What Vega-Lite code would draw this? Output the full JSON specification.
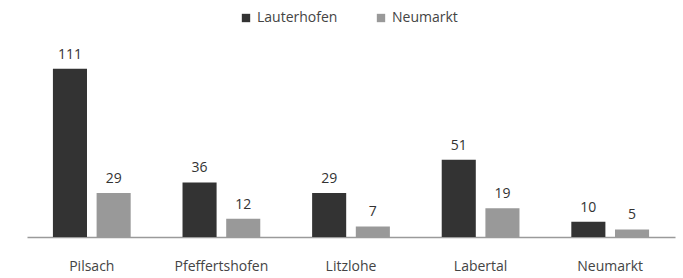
{
  "$schema": "https://vega.github.io/schema/vega-lite/v6.json",
  "width": 648,
  "height": 197,
  "autosize": {"type": "none"},
  "padding": {"left": 27, "top": 40, "right": 8, "bottom": 41},
  "background": "white",
  "config": {"view": {"stroke": null}, "font": "Open Sans"},
  "data": {
    "values": [
      {"ort": "Pilsach", "serie": "Lauterhofen", "wert": 111},
      {"ort": "Pilsach", "serie": "Neumarkt", "wert": 29},
      {"ort": "Pfeffertshofen", "serie": "Lauterhofen", "wert": 36},
      {"ort": "Pfeffertshofen", "serie": "Neumarkt", "wert": 12},
      {"ort": "Litzlohe", "serie": "Lauterhofen", "wert": 29},
      {"ort": "Litzlohe", "serie": "Neumarkt", "wert": 7},
      {"ort": "Labertal", "serie": "Lauterhofen", "wert": 51},
      {"ort": "Labertal", "serie": "Neumarkt", "wert": 19},
      {"ort": "Neumarkt", "serie": "Lauterhofen", "wert": 10},
      {"ort": "Neumarkt", "serie": "Neumarkt", "wert": 5}
    ]
  },
  "encoding": {
    "x": {
      "field": "ort", "type": "nominal", "sort": null,
      "scale": {"paddingInner": 0.4, "paddingOuter": 0.2},
      "axis": {"title": null, "labelAngle": 0, "ticks": false, "domainColor": "#9a9a9a", "domainWidth": 1.5, "labelPadding": 22, "labelFontSize": 14, "labelColor": "#444444"}
    },
    "xOffset": {"field": "serie", "type": "nominal", "scale": {"paddingInner": 0.22}},
    "y": {
      "field": "wert", "type": "quantitative",
      "scale": {"domain": [0, 130]},
      "axis": null
    }
  },
  "layer": [
    {
      "mark": {"type": "bar"},
      "encoding": {
        "color": {
          "field": "serie", "type": "nominal",
          "scale": {"domain": ["Lauterhofen", "Neumarkt"], "range": ["#333333", "#999999"]},
          "legend": {"title": null, "orient": "none", "legendX": 212, "legendY": -29, "direction": "horizontal", "symbolType": "square", "symbolSize": 70, "labelFontSize": 14, "labelColor": "#444444", "columnPadding": 36}
        }
      }
    },
    {
      "mark": {"type": "text", "dy": -14, "fontSize": 14, "color": "#333333"},
      "encoding": {"text": {"field": "wert", "type": "quantitative"}}
    }
  ]
}
